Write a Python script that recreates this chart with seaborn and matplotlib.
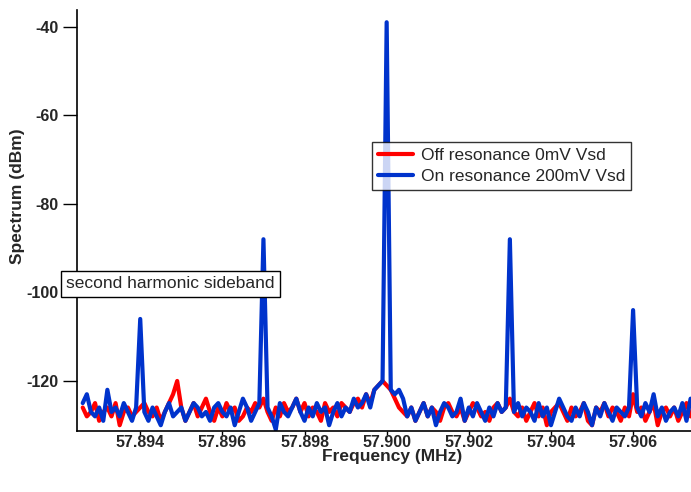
import numpy as np
import pandas as pd
import matplotlib
matplotlib.use('Agg')
import matplotlib.pyplot as plt
import seaborn as sns

# sampled every 0.0001 MHz starting at 57.8926
f_start = 57.8926
f_step = 0.0001

off_res = [-126, -128, -127, -125, -129, -127, -126, -128, -125, -130,
           -127, -126, -128, -127, -126, -125, -127, -128, -126, -129,
           -127, -125, -123, -120, -126, -129, -127, -125, -128, -126,
           -124, -127, -129, -126, -128, -125, -127, -126, -129, -128,
           -126, -127, -125, -126, -124, -127, -129, -126, -128, -125,
           -127, -126, -124, -127, -125, -128, -126, -127, -129, -125,
           -127, -126, -128, -125, -126, -127, -125, -124, -126, -123,
           -125, -122, -121, -120, -121, -122, -124, -126, -127, -128,
           -126, -129, -127, -125, -128, -126, -127, -129, -126, -125,
           -127, -128, -126, -129, -127, -125, -126, -128, -127, -129,
           -126, -125, -127, -126, -124, -127, -128, -126, -129, -127,
           -125, -128, -126, -130, -127, -126, -125, -127, -129, -126,
           -128, -127, -125, -129, -130, -126, -127, -125, -128, -126,
           -127, -129, -126, -128, -123, -127, -126, -129, -127, -125,
           -130, -127, -126, -128, -126, -129, -127, -125, -128]

on_res = [-125, -123, -127, -128, -126, -129, -122, -127, -126, -128,
          -125, -127, -129, -126, -106, -127, -129, -126, -128, -130,
          -127, -125, -128, -127, -126, -129, -127, -125, -126, -128,
          -127, -129, -126, -125, -127, -128, -126, -130, -127, -124,
          -126, -129, -127, -125, -88, -126, -128, -131, -125, -127,
          -128, -126, -124, -127, -129, -126, -128, -125, -127, -126,
          -130, -127, -125, -128, -126, -127, -124, -126, -125, -123,
          -126, -122, -121, -120, -39, -122, -123, -122, -124, -128,
          -126, -129, -127, -125, -128, -126, -130, -127, -125, -126,
          -128, -127, -124, -129, -126, -128, -125, -127, -129, -126,
          -128, -125, -127, -126, -88, -127, -125, -128, -126, -127,
          -129, -125, -128, -126, -130, -127, -124, -126, -128, -129,
          -126, -128, -125, -127, -130, -126, -128, -125, -127, -129,
          -126, -127, -128, -126, -104, -126, -128, -125, -127, -123,
          -128, -126, -129, -127, -126, -128, -125, -129, -124]

labels = ['Off resonance 0mV Vsd', 'On resonance 200mV Vsd']
colors = ['#ff0000', '#0033cc']

rows = []
for name, vals in zip(labels, [off_res, on_res]):
    for i, v in enumerate(vals):
        rows.append((f_start + f_step * i, v, name))
df = pd.DataFrame(rows, columns=['freq', 'dbm', 'trace'])

sns.set_style('ticks')
plt.rcParams['font.family'] = ['Liberation Sans', 'DejaVu Sans']
plt.rcParams['axes.unicode_minus'] = False

fig = plt.figure(figsize=(6.91, 4.92), dpi=100)
ax = fig.add_axes([0.1114, 0.124, 0.8886, 0.856])
sns.lineplot(data=df, x='freq', y='dbm', hue='trace', palette=colors,
             linewidth=3, ax=ax, legend=True)

ax.set_xlim(57.89246, 57.90741)
ax.set_ylim(-131.3, -36.2)
ax.set_xticks([57.894, 57.896, 57.898, 57.900, 57.902, 57.904, 57.906])
ax.set_xticklabels(['57.894', '57.896', '57.898', '57.900', '57.902', '57.904', '57.906'])
ax.set_yticks([-40, -60, -80, -100, -120])
ax.set_xlabel('Frequency (MHz)', fontsize=12.5, fontweight='bold')
ax.set_ylabel('Spectrum (dBm)', fontsize=12.5, fontweight='bold')
ax.xaxis.set_label_coords(0.513, -0.0425)
ax.yaxis.set_label_coords(-0.085, 0.558)
for lab in ax.get_xticklabels() + ax.get_yticklabels():
    lab.set_fontweight('bold')
    lab.set_fontsize(11.5)
ax.tick_params(axis='x', direction='out', length=3, width=1, color='black', pad=0)
ax.tick_params(axis='y', direction='out', length=10, width=1, color='black', pad=3.5)
sns.despine(ax=ax)
for s in ['left', 'bottom']:
    ax.spines[s].set_linewidth(1.2)
    ax.spines[s].set_color('black')

leg = ax.legend(loc='upper left', bbox_to_anchor=(0.5383, 0.7114),
                bbox_transform=fig.transFigure, fontsize=12.5, frameon=True,
                fancybox=False, handlelength=2.0, borderpad=0.35,
                labelspacing=0.3, handletextpad=0.45, borderaxespad=0)
leg.get_frame().set_edgecolor('black')
leg.get_frame().set_linewidth(1)
for h in leg.get_lines():
    h.set_linewidth(3)

fig.text(0.0955, 0.423, 'second harmonic sideband', fontsize=12.5, va='center', ha='left',
         bbox=dict(boxstyle='square,pad=0.3', fc='white', ec='black', lw=1))

fig.savefig('out.png', dpi=100)
